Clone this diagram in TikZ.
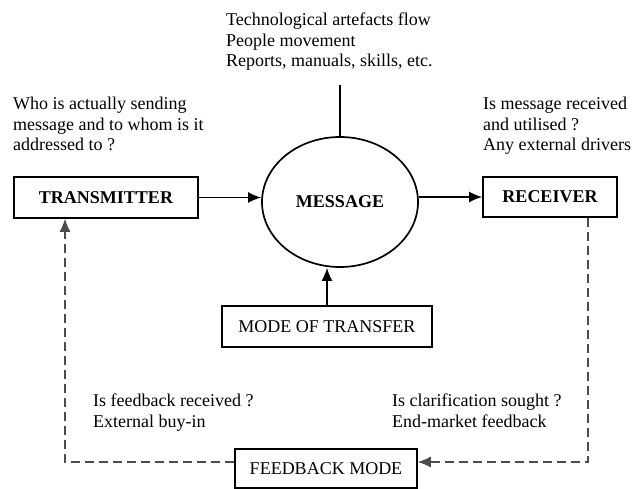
\documentclass[tikz,border=0pt]{standalone}
\usepackage{fontspec}
\setmainfont{Liberation Serif}
\usetikzlibrary{arrows.meta,shapes.geometric}
\begin{document}
\begin{tikzpicture}[x=1pt,y=-1pt,
  every node/.style={inner sep=0pt},
  txt/.style={font=\fontsize{18}{20.5}\selectfont,align=left,anchor=north west},
  boxlbl/.style={draw,line width=1.7pt,minimum width=#1,font=\fontsize{18}{20.5}\selectfont},
  arr/.style={line width=1.6pt,-{Latex[length=13pt,width=11pt]}},
  fbline/.style={line width=1.1pt,black!70,dash pattern=on 9pt off 5pt,-{Latex[length=13pt,width=11pt]}}]
\useasboundingbox (0,0) rectangle (634,489);

% main chain
\node[boxlbl=184pt,minimum height=41pt,font=\fontsize{18}{20.5}\selectfont\bfseries] (tx) at (106,197.5) {TRANSMITTER};
\node[draw,ellipse,line width=1.7pt,minimum width=156pt,minimum height=130pt,font=\fontsize{18}{20.5}\selectfont\bfseries] (msg) at (340,202) {MESSAGE};
\node[boxlbl=134pt,minimum height=40pt,font=\fontsize{18}{20.5}\selectfont\bfseries] (rx) at (550,197) {RECEIVER};
\node[boxlbl=210pt,minimum height=41pt] (mode) at (327,326.5) {MODE OF TRANSFER};
\node[boxlbl=182pt,minimum height=39pt] (fb) at (326,468.5) {FEEDBACK MODE};

\coordinate (flow) at (340,85);

% descriptive texts
\node[txt] (flowtxt) at (226,13) {Technological artefacts flow\\People movement\\Reports, manuals, skills, etc.};
\node[txt] (txtxt) at (13,97) {Who is actually sending\\message and to whom is it\\addressed to ?};
\node[txt] (rxtxt) at (483,97) {Is message received\\and utilised ?\\Any external drivers};
\node[txt] (fbl) at (93,394) {Is feedback received ?\\External buy-in};
\node[txt] (fbr) at (392,394) {Is clarification sought ?\\End-market feedback};

% connectors
\draw[line width=1.6pt] (flow) -- (msg.north);
\draw[arr] (tx.east) -- (tx.east -| msg.west);
\draw[arr] (msg.east |- rx.west) -- (rx.west);
\draw[arr] (mode.north) -- (mode.north |- msg.south);
\draw[fbline] ([xshift=38pt]rx.south) |- ([yshift=6.5pt]fb.east);
\draw[fbline] ([yshift=6.5pt]fb.west) -| ([xshift=-41pt]tx.south);
\end{tikzpicture}
\end{document}
